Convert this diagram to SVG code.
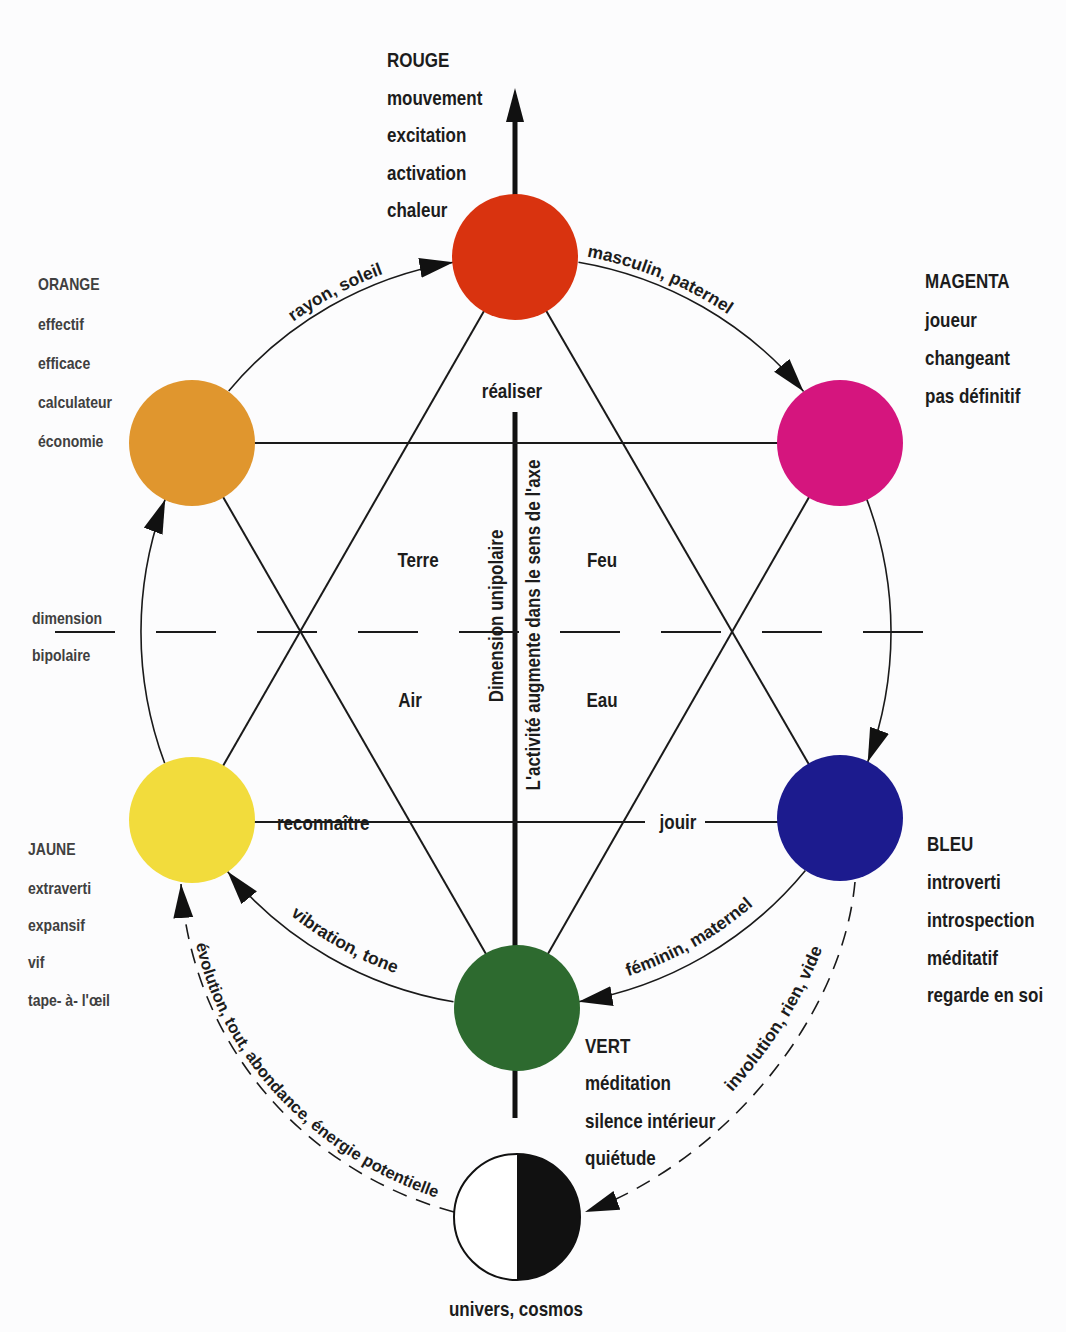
<svg xmlns="http://www.w3.org/2000/svg" width="1066" height="1332" viewBox="0 0 1066 1332">
<style>
text{font-family:'Liberation Sans',Arial,sans-serif;font-weight:bold;fill:#1c1c1c;font-size:20px}
.sm{font-size:16.5px;fill:#404040}
.arc{font-size:17.5px}
.ln{stroke:#1a1a1a;stroke-width:2;fill:none}
.ca{stroke:#1a1a1a;stroke-width:1.6;fill:none}
.dash{stroke:#1a1a1a;stroke-width:1.6;fill:none;stroke-dasharray:15 10}
</style>
<defs>
<marker id="ah" markerWidth="36" markerHeight="22" refX="34" refY="10" orient="auto" markerUnits="userSpaceOnUse"><path d="M0,0 L34,10 L0,20 z" fill="#111"/></marker>
<path id="p-rayon" d="M 223.4 386.5 A 382 382 0 0 1 476.1 252.1"/>
<path id="p-masc" d="M 502.7 250.2 A 382 382 0 0 1 792.6 368.6"/>
<path id="p-vib" d="M 234.7 859.8 A 362 362 0 0 0 471.9 991.3"/>
<path id="p-fem" d="M 560.1 991.3 A 362 362 0 0 0 801.3 854.9"/>
<path id="p-evo" d="M 190 905 C 202 1045 310 1160 450 1202"/>
<path id="p-invo" d="M 705 1120 Q 800 1030 835 912"/>
</defs>
<rect width="1066" height="1332" fill="#fcfcfd"/>

<g id="connectors">
<line x1="515" y1="118" x2="515" y2="257" stroke="#111" stroke-width="5"/>
<polygon points="515,88 506,122 524,122" fill="#111"/>
<line x1="515" y1="412" x2="515" y2="1118" stroke="#111" stroke-width="5"/>
<line x1="55" y1="632" x2="923" y2="632" stroke="#1a1a1a" stroke-width="2" stroke-dasharray="60 41"/>
<line class="ln" x1="515" y1="257" x2="192" y2="820"/>
<line class="ln" x1="515" y1="257" x2="840" y2="818"/>
<line class="ln" x1="192" y1="822" x2="645" y2="822"/>
<line class="ln" x1="705" y1="822" x2="840" y2="822"/>
<line class="ln" x1="192" y1="443" x2="840" y2="443"/>
<line class="ln" x1="192" y1="443" x2="517" y2="1008"/>
<line class="ln" x1="840" y1="443" x2="517" y2="1008"/>
<path class="ca" d="M 228.7 390.9 A 375 375 0 0 1 453.5 262.2" marker-end="url(#ah)"/>
<path class="ca" d="M 578.5 262.2 A 375 375 0 0 1 803.6 391.5" marker-end="url(#ah)"/>
<path class="ca" d="M 866.8 499.4 A 375 375 0 0 1 867.7 762.1" marker-end="url(#ah)"/>
<path class="ca" d="M 805.4 870.5 A 375 375 0 0 1 578.5 1001.8" marker-end="url(#ah)"/>
<path class="ca" d="M 453.5 1001.8 A 375 375 0 0 1 227.5 871.6" marker-end="url(#ah)"/>
<path class="ca" d="M 164.7 763.3 A 375 375 0 0 1 165.2 499.4" marker-end="url(#ah)"/>
<path class="dash" d="M 855 882 C 842 1020 722 1162 585 1212" marker-end="url(#ah)"/>
<path class="dash" d="M 454 1212 C 305 1172 192 1045 181 884" marker-end="url(#ah)"/>
<text class="arc" text-anchor="middle"><textPath href="#p-rayon" startOffset="50%">rayon, soleil</textPath></text>
<text class="arc" text-anchor="middle"><textPath href="#p-masc" startOffset="50%">masculin, paternel</textPath></text>
<text class="arc" text-anchor="middle"><textPath href="#p-vib" startOffset="50%">vibration, tone</textPath></text>
<text class="arc" text-anchor="middle"><textPath href="#p-fem" startOffset="50%">féminin, maternel</textPath></text>
<text class="arc" style="font-size:16.5px" text-anchor="middle"><textPath href="#p-evo" startOffset="53%">évolution, tout, abondance, énergie potentielle</textPath></text>
<text class="arc" style="font-size:17.5px" text-anchor="middle"><textPath href="#p-invo" startOffset="50%">involution, rien, vide</textPath></text>
<text transform="translate(277,830) scale(.85,1)">reconnaître</text>
<text transform="translate(678,829) scale(.85,1)" text-anchor="middle">jouir</text>
</g>

<g id="node-rouge">
<circle cx="515" cy="257" r="63" fill="#d9330f"/>
<text transform="translate(387,67) scale(.85,1)">ROUGE</text>
<text transform="translate(387,105) scale(.85,1)">mouvement</text>
<text transform="translate(387,142) scale(.85,1)">excitation</text>
<text transform="translate(387,180) scale(.85,1)">activation</text>
<text transform="translate(387,217) scale(.85,1)">chaleur</text>
</g>
<g id="node-magenta">
<circle cx="840" cy="443" r="63" fill="#d5157e"/>
<text transform="translate(925,288) scale(.85,1)">MAGENTA</text>
<text transform="translate(925,327) scale(.85,1)">joueur</text>
<text transform="translate(925,365) scale(.85,1)">changeant</text>
<text transform="translate(925,403) scale(.85,1)">pas définitif</text>
</g>
<g id="node-bleu">
<circle cx="840" cy="818" r="63" fill="#1c1b8e"/>
<text transform="translate(927,851) scale(.85,1)">BLEU</text>
<text transform="translate(927,889) scale(.85,1)">introverti</text>
<text transform="translate(927,927) scale(.85,1)">introspection</text>
<text transform="translate(927,965) scale(.85,1)">méditatif</text>
<text transform="translate(927,1002) scale(.85,1)">regarde en soi</text>
</g>
<g id="node-vert">
<circle cx="517" cy="1008" r="63" fill="#2d6a2f"/>
<text transform="translate(585,1053) scale(.85,1)">VERT</text>
<text transform="translate(585,1090) scale(.85,1)">méditation</text>
<text transform="translate(585,1128) scale(.85,1)">silence intérieur</text>
<text transform="translate(585,1165) scale(.85,1)">quiétude</text>
</g>
<g id="node-jaune">
<circle cx="192" cy="820" r="63" fill="#f2dc3c"/>
<text class="sm" transform="translate(28,855) scale(.85,1)">JAUNE</text>
<text class="sm" transform="translate(28,894) scale(.85,1)">extraverti</text>
<text class="sm" transform="translate(28,931) scale(.85,1)">expansif</text>
<text class="sm" transform="translate(28,968) scale(.85,1)">vif</text>
<text class="sm" transform="translate(28,1006) scale(.85,1)">tape- à- l'œil</text>
</g>
<g id="node-orange">
<circle cx="192" cy="443" r="63" fill="#e0962e"/>
<text class="sm" transform="translate(38,290) scale(.85,1)">ORANGE</text>
<text class="sm" transform="translate(38,330) scale(.85,1)">effectif</text>
<text class="sm" transform="translate(38,369) scale(.85,1)">efficace</text>
<text class="sm" transform="translate(38,408) scale(.85,1)">calculateur</text>
<text class="sm" transform="translate(38,447) scale(.85,1)">économie</text>
</g>
<g id="node-univers">
<circle cx="517" cy="1217" r="63" fill="#fff" stroke="#111" stroke-width="2"/>
<path d="M 517 1154 A 63 63 0 0 1 517 1280 Z" fill="#111"/>
<text transform="translate(516,1316) scale(.85,1)" text-anchor="middle">univers, cosmos</text>
</g>

<g id="labels">
<text transform="translate(512,398) scale(.85,1)" text-anchor="middle">réaliser</text>
<text transform="translate(418,567) scale(.85,1)" text-anchor="middle">Terre</text>
<text transform="translate(602,567) scale(.85,1)" text-anchor="middle">Feu</text>
<text transform="translate(410,707) scale(.85,1)" text-anchor="middle">Air</text>
<text transform="translate(602,707) scale(.85,1)" text-anchor="middle">Eau</text>
<text class="sm" transform="translate(32,624) scale(.85,1)">dimension</text>
<text class="sm" transform="translate(32,661) scale(.85,1)">bipolaire</text>
<text transform="translate(503,616) rotate(-90) scale(.85,1)" text-anchor="middle">Dimension unipolaire</text>
<text transform="translate(540,625) rotate(-90) scale(.85,1)" text-anchor="middle">L'activité augmente dans le sens de l'axe</text>
</g>
</svg>
